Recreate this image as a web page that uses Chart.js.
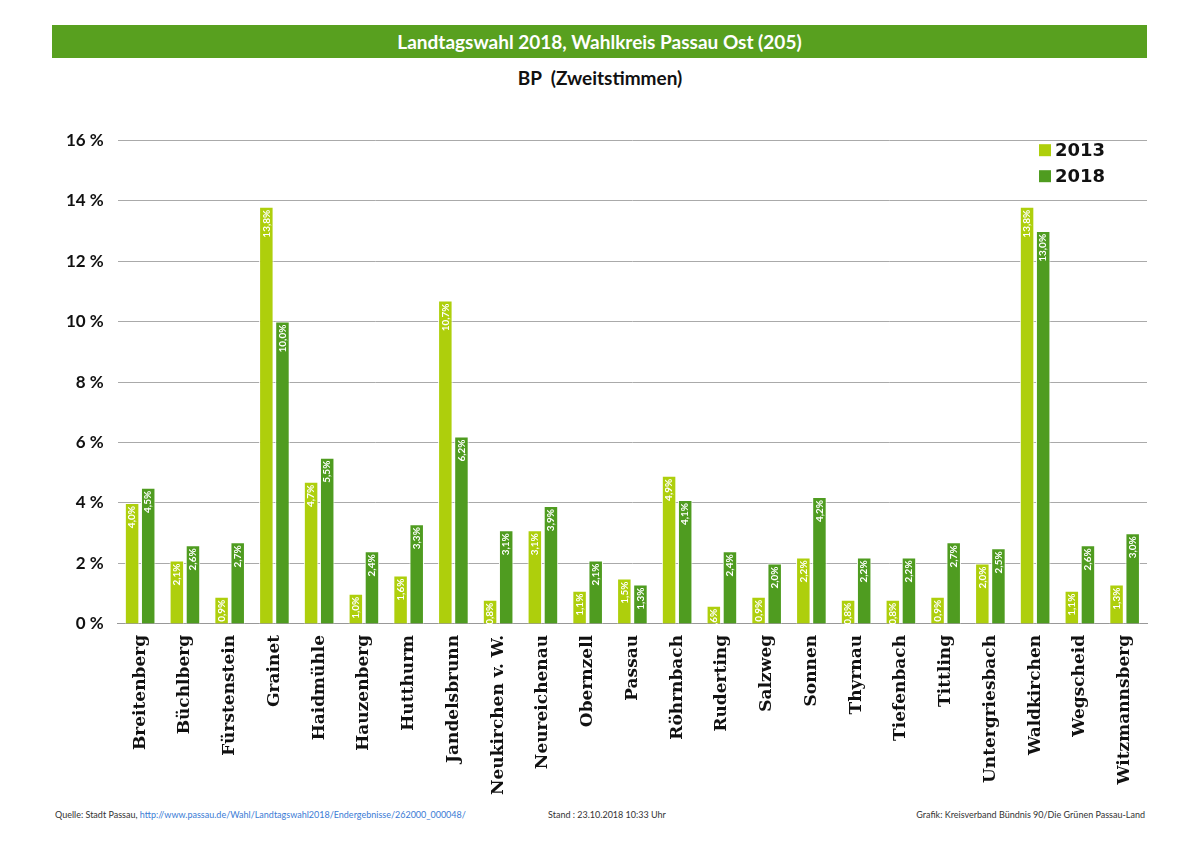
<!DOCTYPE html>
<html><head><meta charset="utf-8">
<script src="https://cdn.jsdelivr.net/npm/chart.js@4"></script>
<style>
body{margin:0;width:1200px;height:848px;background:#fff;font-family:Lato,sans-serif;position:relative;overflow:hidden}
#band{position:absolute;left:52px;top:25px;width:1095px;height:33px;background:#58a01f;color:#fff;font:bold 19px Lato;text-align:center;line-height:33px}
#sub{position:absolute;left:0;width:1200px;top:66px;text-align:center;font:bold 19px Lato;color:#111}
#wrap{position:absolute;left:52px;top:116px;width:1100px;height:682px}
.f{position:absolute;top:809px;font:9px Lato;color:#333}
.f a{color:#3a7bd5;text-decoration:none}
</style></head><body>
<div id="band">Landtagswahl 2018, Wahlkreis Passau Ost (205)</div>
<div id="sub">BP&nbsp; (Zweitstimmen)</div>
<div id="wrap"><canvas id="c" width="1100" height="682"></canvas></div>
<div class="f" style="left:55px">Quelle: Stadt Passau, <a>http://www.passau.de/Wahl/Landtagswahl2018/Endergebnisse/262000_000048/</a></div>
<div class="f" style="left:548px">Stand : 23.10.2018 10:33 Uhr</div>
<div class="f" style="right:55px">Grafik: Kreisverband Bündnis 90/Die Grünen Passau-Land</div>
<script>
const categories=["Breitenberg","Büchlberg","Fürstenstein","Grainet","Haidmühle","Hauzenberg","Hutthurm","Jandelsbrunn","Neukirchen v. W.","Neureichenau","Obernzell","Passau","Röhrnbach","Ruderting","Salzweg","Sonnen","Thyrnau","Tiefenbach","Tittling","Untergriesbach","Waldkirchen","Wegscheid","Witzmannsberg"];
const v2013=[4.0,2.1,0.9,13.8,4.7,1.0,1.6,10.7,0.8,3.1,1.1,1.5,4.9,0.6,0.9,2.2,0.8,0.8,0.9,2.0,13.8,1.1,1.3];
const v2018=[4.5,2.6,2.7,10.0,5.5,2.4,3.3,6.2,3.1,3.9,2.1,1.3,4.1,2.4,2.0,4.2,2.2,2.2,2.7,2.5,13.0,2.6,3.0];
const yTicks=[0,2,4,6,8,10,12,14,16];
const fmt=v=>v.toFixed(1).replace('.',',')+'%';
const labelPlugin={id:'lbl',afterDatasetsDraw(ch){const c=ch.ctx;c.save();c.fillStyle='#fff';c.font='bold 10px Lato';c.textAlign='right';c.textBaseline='middle';
ch.data.datasets.forEach((ds,i)=>{ch.getDatasetMeta(i).data.forEach((b,j)=>{c.save();c.translate(b.x,b.y+3);c.rotate(-Math.PI/2);c.fillText(fmt(ds.data[j]),0,0);c.restore();});});
const a=ch.chartArea;c.textAlign='left';c.fillStyle='#111';c.font='bold 18px "DejaVu Sans"';
ch.data.datasets.forEach((ds,i)=>{const y=a.top+10+i*26;c.fillStyle=ds.backgroundColor;c.fillRect(a.right-108,y-6,12,12);c.fillStyle='#111';c.fillText(ds.label,a.right-92,y+1);});
c.restore();}};
new Chart(document.getElementById('c'),{type:'bar',
data:{labels:categories,datasets:[
{label:'2013',data:v2013,backgroundColor:'#aecf0c',borderColor:'#fff',borderWidth:1},
{label:'2018',data:v2018,backgroundColor:'#4f9c20',borderColor:'#fff',borderWidth:1}]},
options:{responsive:false,animation:false,layout:{padding:{top:4,right:5}},
datasets:{bar:{categoryPercentage:0.72,barPercentage:0.9}},
plugins:{title:{display:false},tooltip:{enabled:false},legend:{display:false}},
scales:{x:{grid:{display:false},border:{color:'#999'},ticks:{maxRotation:90,minRotation:90,color:'#111',font:{family:'DejaVu Serif',weight:'bold',size:17}}},
y:{min:0,max:16,afterBuildTicks:a=>{a.ticks=yTicks.map(v=>({value:v}))},border:{display:false},grid:{color:'#aaa',borderDash:[2,3],drawTicks:false},ticks:{padding:14,color:'#111',font:{family:'Lato',weight:'bold',size:17},callback:v=>v+' %'}}}},
plugins:[labelPlugin]});
</script></body></html>
